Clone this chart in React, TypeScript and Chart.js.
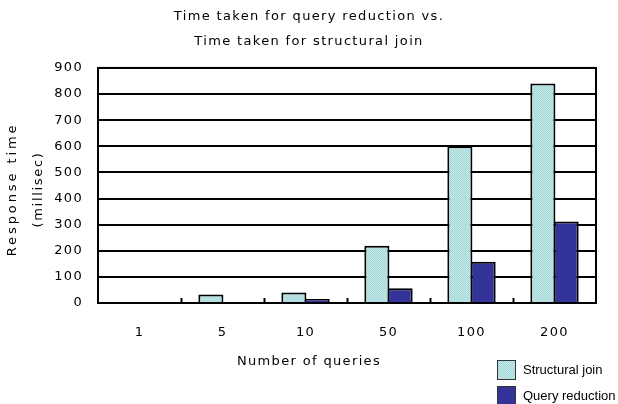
import React, { useEffect, useRef } from "react";
import { Chart, registerables } from "chart.js";
Chart.register(...registerables);

const categories = ["1", "5", "10", "50", "100", "200"];
const structuralJoin = [0, 33, 40, 219, 600, 840];
const queryReduction = [0, 0, 15, 56, 158, 312];
const seriesNames = ["Structural join", "Query reduction"];
const titleLines = ["Time taken for query reduction vs.", "Time taken for structural join"];
const yTitleLines = ["Response time", "(millisec)"];
const xTitle = "Number of queries";
const yMin = 0;
const yMax = 900;
const yStep = 100;

const FONT = "'DejaVu Sans', sans-serif";
const LEGEND_FONT = "'Liberation Sans', Arial, sans-serif";
const DARK = "#333399";

function makePattern(): CanvasPattern | string {
  const c = document.createElement("canvas");
  c.width = 2;
  c.height = 2;
  const g = c.getContext("2d");
  if (!g) return "#b4e0e0";
  g.fillStyle = "#c0e8e8";
  g.fillRect(0, 0, 2, 2);
  g.fillStyle = "#a8d8d8";
  g.fillRect(0, 0, 1, 1);
  g.fillRect(1, 1, 1, 1);
  const p = g.createPattern(c, "repeat");
  return p || "#b4e0e0";
}

const framePlugin = {
  id: "framePlugin",
  beforeDraw(chart: any) {
    (chart.ctx as any).letterSpacing = "1.35px";
  },
  afterDatasetsDraw(chart: any) {
    const { ctx, chartArea } = chart;
    const x = chart.scales.x;
    ctx.save();
    ctx.strokeStyle = "#000";
    ctx.lineWidth = 2;
    ctx.strokeRect(chartArea.left, chartArea.top, chartArea.right - chartArea.left, chartArea.bottom - chartArea.top);
    ctx.beginPath();
    for (let i = 0; i < categories.length - 1; i++) {
      const bx = (x.getPixelForValue(i) + x.getPixelForValue(i + 1)) / 2;
      ctx.moveTo(Math.round(bx) + 0.5, chartArea.bottom);
      ctx.lineTo(Math.round(bx) + 0.5, chartArea.bottom - 5);
    }
    ctx.stroke();
    ctx.restore();
  },
  afterDraw(chart: any) {
    const { ctx, chartArea } = chart;
    ctx.save();
    ctx.fillStyle = "#000";
    // y axis title (rotated)
    ctx.save();
    ctx.font = "13px " + FONT;
    ctx.textAlign = "center";
    ctx.textBaseline = "middle";
    const cy = (chartArea.top + chartArea.bottom) / 2 + 4;
    yTitleLines.forEach((line, i) => {
      ctx.save();
      ctx.translate(13 + i * 26, cy);
      ctx.rotate(-Math.PI / 2);
      (ctx as any).letterSpacing = i === 0 ? "2.9px" : "1.7px";
      ctx.fillText(line, 0, 0);
      ctx.restore();
    });
    ctx.restore();
    // x axis title
    (ctx as any).letterSpacing = "1.35px";
    ctx.font = "13px " + FONT;
    ctx.textAlign = "center";
    ctx.textBaseline = "middle";
    ctx.fillText(xTitle, chart.width / 2, chartArea.bottom + 59);
    // legend
    (ctx as any).letterSpacing = "0px";
    const ds = chart.data.datasets;
    const boxX = chartArea.right - 99;
    ds.forEach((d: any, i: number) => {
      const top = chartArea.bottom + 57 + i * 26;
      ctx.fillStyle = d.backgroundColor;
      ctx.fillRect(boxX, top, 19, 20);
      ctx.strokeStyle = "#333";
      ctx.lineWidth = 1;
      ctx.strokeRect(boxX + 0.5, top + 0.5, 18, 19);
      ctx.fillStyle = "#000";
      ctx.font = "13px " + LEGEND_FONT;
      ctx.textAlign = "left";
      ctx.textBaseline = "middle";
      ctx.fillText(d.label, boxX + 26, top + 10);
    });
    ctx.restore();
  },
};

export default function App() {
  const ref = useRef<HTMLCanvasElement>(null);
  useEffect(() => {
    if (!ref.current) return;
    const light = makePattern();
    const chart = new Chart(ref.current, {
      type: "bar",
      data: {
        labels: categories,
        datasets: [
          {
            label: seriesNames[0],
            data: structuralJoin,
            backgroundColor: light as any,
            borderColor: "#000",
            borderWidth: 2,
            borderSkipped: "bottom",
          },
          {
            label: seriesNames[1],
            data: queryReduction,
            backgroundColor: DARK,
            borderColor: "#000",
            borderWidth: 2,
            borderSkipped: "bottom",
          },
        ],
      },
      options: {
        animation: false,
        responsive: false,
        events: [],
        layout: { padding: 0 },
        datasets: { bar: { categoryPercentage: 0.56, barPercentage: 1.08 } },
        plugins: {
          legend: { display: false },
          tooltip: { enabled: false },
          title: {
            display: true,
            text: titleLines,
            color: "#000",
            font: { family: FONT, size: 13, weight: "normal", lineHeight: 1.92 },
            padding: { top: 4, bottom: 14 },
          },
        },
        scales: {
          x: {
            grid: { display: false, drawTicks: false },
            border: { display: false },
            ticks: { color: "#000", font: { family: FONT, size: 13 }, padding: 22, maxRotation: 0 },
            afterFit(scale: any) {
              scale.height = 101;
            },
          },
          y: {
            min: yMin,
            max: yMax,
            grid: { color: "#000", lineWidth: 2, drawTicks: false },
            border: { display: false },
            ticks: { stepSize: yStep, color: "#000", font: { family: FONT, size: 13 }, padding: 15 },
            title: { display: false },
            afterFit(scale: any) {
              scale.width = 98;
            },
          },
          ySpacer: {
            position: "right",
            min: yMin,
            max: yMax,
            grid: { display: false, drawTicks: false },
            border: { display: false },
            ticks: { display: false },
            afterFit(scale: any) {
              scale.width = 22;
            },
          },
        },
      },
      plugins: [framePlugin],
    });
    return () => chart.destroy();
  }, []);
  return (
    <div style={{ position: "fixed", left: 0, top: 0, width: 618, height: 404, background: "#fff" }}>
      <canvas ref={ref} width={618} height={404} style={{ display: "block", width: 618, height: 404 }} />
    </div>
  );
}
